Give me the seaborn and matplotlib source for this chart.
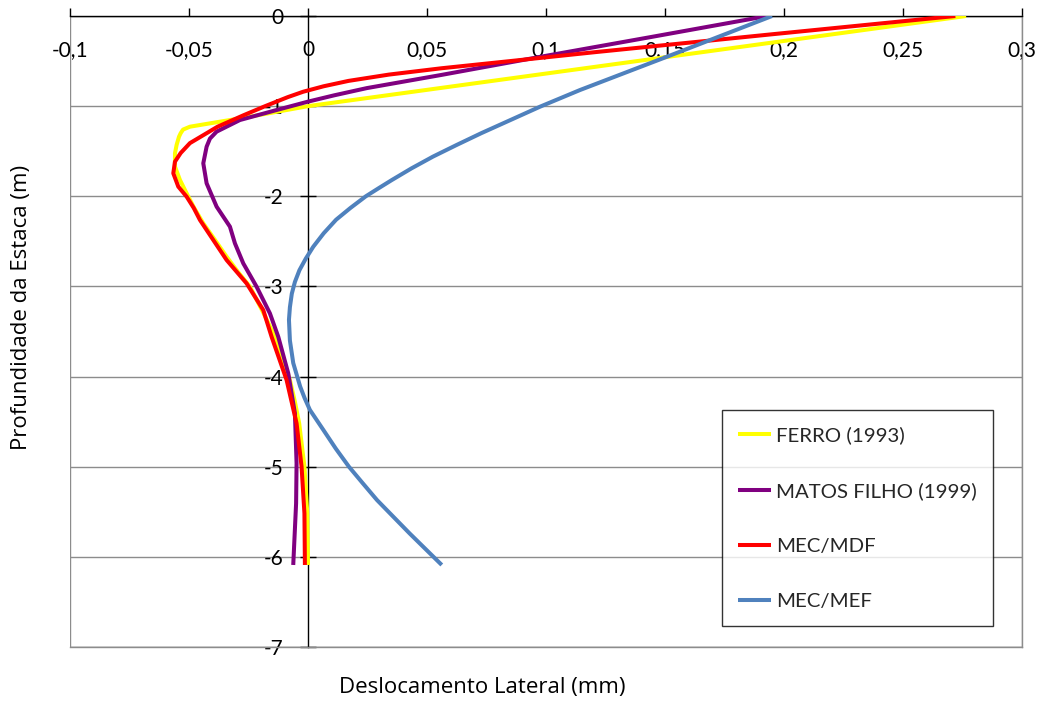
import numpy as np
import pandas as pd
import matplotlib
matplotlib.use('Agg')
import matplotlib.pyplot as plt
import seaborn as sns
from matplotlib.patches import Rectangle
from matplotlib.ticker import FuncFormatter

# ---- data (depth in m, lateral displacement in mm) ----
ferro_depth = [0, -0.5, -1.0, -1.117, -1.19, -1.228, -1.26, -1.30, -1.339, -1.43, -1.523,
               -1.67, -1.819, -1.967, -2.13, -2.30, -2.48, -2.67, -2.84, -3.003, -3.28,
               -3.558, -3.80, -4.038, -4.28, -4.519, -5.0, -5.517, -6.09]
ferro_disp = [0.2765, 0.1383, 0.0, -0.0244, -0.041, -0.0496, -0.0525, -0.0535, -0.0542,
              -0.0552, -0.0559, -0.0559, -0.0538, -0.051, -0.0478, -0.044, -0.0392,
              -0.0342, -0.0294, -0.0244, -0.019, -0.0139, -0.0106, -0.0076, -0.0055,
              -0.0037, -0.0015, -0.0003, 0.0]

matos_depth = [0, -0.229, -0.451, -0.654, -0.80, -0.88, -0.95, -1.043, -1.154, -1.283,
               -1.36, -1.45, -1.634, -1.856, -2.115, -2.337, -2.522, -2.744, -3.003,
               -3.299, -3.558, -3.964, -4.408, -4.963, -5.406, -6.09]
matos_disp = [0.193, 0.145, 0.098, 0.056, 0.0247, 0.011, 0.0, -0.0132, -0.0286, -0.0384,
              -0.0412, -0.0426, -0.044, -0.0426, -0.0384, -0.0328, -0.0307, -0.0272,
              -0.0216, -0.016, -0.0125, -0.0083, -0.0055, -0.0048, -0.005, -0.0062]

mdf_depth = [0, -0.2, -0.4, -0.5, -0.58, -0.65, -0.72, -0.78, -0.84, -0.9, -1.0, -1.1,
             -1.228, -1.41, -1.52, -1.616, -1.745, -1.893, -2.004, -2.13, -2.263, -2.485,
             -2.707, -2.966, -3.262, -3.558, -4.038, -4.519, -5.0, -5.517, -6.09]
mdf_disp = [0.272, 0.196, 0.121, 0.085, 0.056, 0.034, 0.017, 0.0065, -0.002, -0.0085,
            -0.018, -0.027, -0.038, -0.0496, -0.0535, -0.0559, -0.0566, -0.0545, -0.051,
            -0.048, -0.0454, -0.0398, -0.0342, -0.0258, -0.0188, -0.0153, -0.009,
            -0.0048, -0.0027, -0.0015, -0.0013]

mef_depth = [0, -0.45, -0.821, -1.006, -1.30, -1.43, -1.56, -1.69, -1.82, -1.91, -2.0,
             -2.13, -2.26, -2.41, -2.56, -2.69, -2.82, -2.95, -3.08, -3.23, -3.37, -3.6,
             -3.85, -4.11, -4.24, -4.37, -4.59, -4.8, -5.0, -5.18, -5.37, -5.74, -6.09]
mef_disp = [0.195, 0.151, 0.1143, 0.0975, 0.0728, 0.0625, 0.0525, 0.0435, 0.0352, 0.0297,
            0.0243, 0.0178, 0.0118, 0.0066, 0.0022, -0.0009, -0.0036, -0.0055, -0.0068,
            -0.0076, -0.0080, -0.0076, -0.0062, -0.0033, -0.0014, 0.0008, 0.0064,
            0.0117, 0.0172, 0.0229, 0.0290, 0.0427, 0.0562]

series_names = ["FERRO (1993)", "MATOS FILHO (1999)", "MEC/MDF", "MEC/MEF"]
series_colors = ["#FFFF00", "#800080", "#FF0000", "#4F81BD"]
series_data = [(ferro_depth, ferro_disp), (matos_depth, matos_disp),
               (mdf_depth, mdf_disp), (mef_depth, mef_disp)]

x_ticks = [-0.1, -0.05, 0, 0.05, 0.1, 0.15, 0.2, 0.25, 0.3]
y_ticks = [0, -1, -2, -3, -4, -5, -6, -7]

sns.set_theme(style='white')
plt.rcParams['font.family'] = ['Lato', 'DejaVu Sans']
plt.rcParams['axes.unicode_minus'] = False

W, H = 1041, 701
fig = plt.figure(figsize=(W / 100, H / 100), dpi=100)
ax = fig.add_axes([70 / W, 1 - 647 / H, 952 / W, 631 / H])

for name, (d, x), c in zip(series_names, series_data, series_colors):
    df = pd.DataFrame({'disp': x, 'depth': d})
    sns.lineplot(data=df, x='disp', y='depth', sort=False, estimator=None,
                 color=c, lw=2.9, label=name, ax=ax, zorder=3)
for ln in ax.lines:
    ln.set_solid_joinstyle('round')
    ln.set_solid_capstyle('butt')

ax.set_xlim(-0.1, 0.3)
ax.set_ylim(-7, 0)
ax.set_xticks(x_ticks)
ax.set_yticks(y_ticks)
fmt = FuncFormatter(lambda v, p: ('%g' % round(v, 3)).replace('.', ','))
ax.xaxis.set_major_formatter(fmt)
ax.yaxis.set_major_formatter(fmt)
ax.set_xlabel('')
ax.set_ylabel('')

gray = '#8c8c8c'
ax.yaxis.grid(True, color=gray, lw=1.0, zorder=0)
ax.xaxis.grid(False)

ax.spines['top'].set_color('black')
ax.spines['top'].set_linewidth(1.0)
ax.spines['left'].set_position(('data', 0))
ax.spines['left'].set_color('black')
ax.spines['left'].set_linewidth(1.0)
ax.spines['right'].set_color(gray)
ax.spines['bottom'].set_color(gray)
ax.spines['right'].set_linewidth(1.0)
ax.spines['bottom'].set_linewidth(1.0)
ax.add_patch(Rectangle((0, 0), 1, 1, transform=ax.transAxes, fill=False,
                       ec=gray, lw=1.0, zorder=0.5))

ax.tick_params(axis='x', bottom=False, top=True, labelbottom=False, labeltop=True,
               direction='out', length=6, width=1, color='black', pad=-38,
               labelsize=15, labelcolor='black')
ax.tick_params(axis='y', left=True, right=False, direction='inout', length=11.5,
               width=1, color='black', pad=12, labelsize=15, labelcolor='black')

leg = ax.legend(loc='upper left', bbox_to_anchor=(0.685, 0.376), borderaxespad=0,
                frameon=True, fancybox=False, edgecolor='black', fontsize=14.7,
                handlelength=1.6, handletextpad=0.25, labelspacing=1.85,
                borderpad=0.8)
leg.get_frame().set_linewidth(1.0)
for line in leg.get_lines():
    line.set_linewidth(2.9)

fig.text(482 / W, 1 - 688 / H, 'Deslocamento Lateral (mm)', ha='center', va='center',
         fontsize=16, color='black', family=['Open Sans', 'DejaVu Sans'])
fig.text(22 / W, 1 - 307 / H, 'Profundidade da Estaca (m)', ha='center', va='center',
         rotation=90, fontsize=16, color='black', family=['Open Sans', 'DejaVu Sans'])

fig.savefig('out.png', dpi=100, facecolor='white')
